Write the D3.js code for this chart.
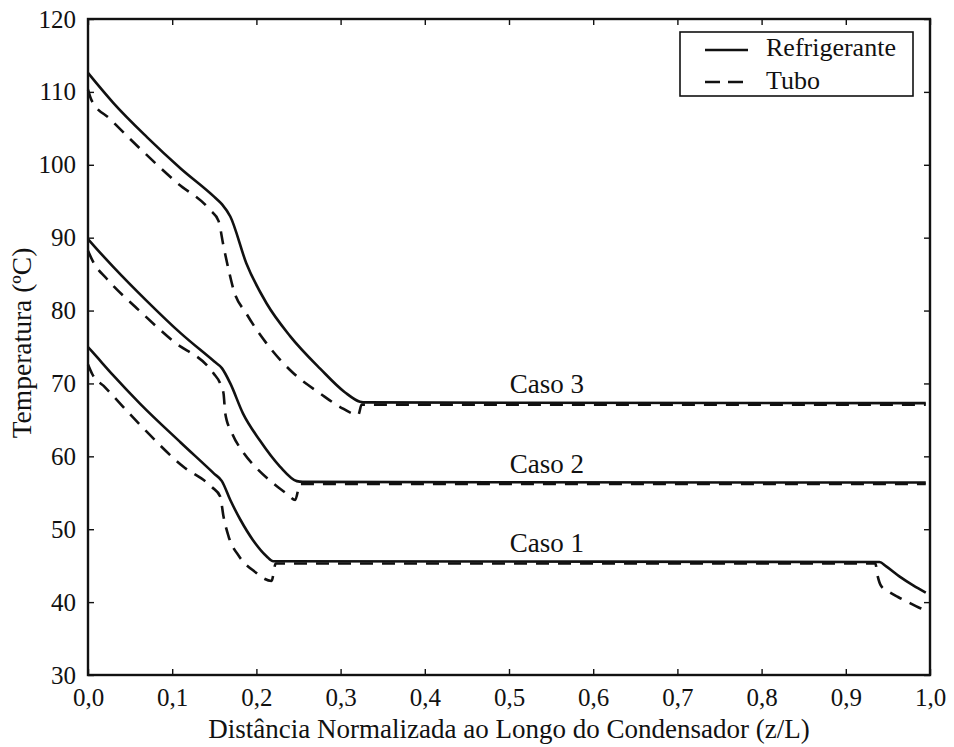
<!DOCTYPE html>
<html>
<head>
<meta charset="utf-8">
<script src="https://cdn.jsdelivr.net/npm/d3@7"></script>
<style>
  body { margin: 0; background: #fff; }
  text { font-family: "Liberation Serif", "Times New Roman", serif; fill: #111; }
</style>
</head>
<body>
<svg width="954" height="747"></svg>
<script>
// values: [z/L, temperature °C]
var caso1Refrigerante = [[0, 75.0], [0.01, 73.7], [0.03, 71.1], [0.062, 67.2], [0.11, 61.9], [0.15, 57.6], [0.159, 56.6],
    [0.169, 54.0], [0.181, 51.3], [0.196, 48.5], [0.212, 46.3], [0.22, 45.6], [0.94, 45.5], [0.948, 44.9],
    [0.964, 43.5], [0.98, 42.3], [0.995, 41.3]];
var caso1Tubo = [[0, 72.6], [0.005, 71.3], [0.02, 69.5], [0.062, 64.3], [0.113, 58.6], [0.147, 55.8], [0.157, 54.5],
    [0.161, 51.7], [0.167, 49.0], [0.18, 46.2], [0.2, 44.0], [0.208, 43.3], [0.218, 42.9], [0.223, 45.3],
    [0.935, 45.3], [0.938, 43.5], [0.942, 42.2], [0.95, 41.5], [0.962, 40.7], [0.974, 40.0], [0.986, 39.3], [0.995, 38.9]];

var caso2Refrigerante = [[0, 89.8], [0.01, 88.5], [0.03, 86.0], [0.07, 81.3], [0.11, 76.9], [0.15, 73.0], [0.159, 72.1],
    [0.169, 70.0], [0.184, 65.9], [0.204, 62.2], [0.228, 58.6], [0.248, 56.6], [0.255, 56.5], [0.995, 56.4]];
var caso2Tubo = [[0, 88.2], [0.006, 86.7], [0.022, 84.4], [0.06, 80.1], [0.1, 75.9], [0.149, 71.4], [0.157, 70.0],
    [0.161, 68.6], [0.163, 65.9], [0.171, 63.2], [0.184, 60.6], [0.2, 58.4], [0.22, 56.3], [0.238, 54.7],
    [0.246, 54.0], [0.252, 56.2], [0.995, 56.2]];

var caso3Refrigerante = [[0, 112.6], [0.01, 111.2], [0.03, 108.5], [0.07, 103.8], [0.11, 99.5], [0.15, 95.6], [0.159, 94.6],
    [0.169, 92.9], [0.188, 86.5], [0.212, 81.0], [0.24, 76.5], [0.276, 72.0], [0.305, 68.8], [0.323, 67.5],
    [0.33, 67.4], [0.995, 67.3]];
var caso3Tubo = [[0, 110.3], [0.004, 108.9], [0.026, 106.3], [0.062, 102.2], [0.105, 97.6], [0.145, 93.8], [0.155, 92.3],
    [0.161, 88.8], [0.167, 85.6], [0.173, 82.8], [0.188, 79.6], [0.212, 75.5], [0.244, 71.4], [0.276, 68.6],
    [0.299, 66.8], [0.321, 65.7], [0.325, 67.1], [0.995, 67.1]];

var casoNames = ["Caso 1", "Caso 2", "Caso 3"];
var casoLabelX = 0.545;
var plateaus = [45.6, 56.5, 67.4];

var xTicks = [0, 0.1, 0.2, 0.3, 0.4, 0.5, 0.6, 0.7, 0.8, 0.9, 1.0];
var yTicks = [30, 40, 50, 60, 70, 80, 90, 100, 110, 120];

var svg = d3.select("svg"),
    width = +svg.attr("width"),
    height = +svg.attr("height");

var margin = {top: 19, right: 24, bottom: 72, left: 88};
var x = d3.scaleLinear().domain([0, 1]).range([margin.left, width - margin.right]);
var y = d3.scaleLinear().domain([30, 120]).range([height - margin.bottom, margin.top]);

var fmt = function(d) { return d3.format(".1f")(d).replace(".", ","); };

// axes, ticks pointing inward on all four sides
svg.append("g")
    .attr("transform", "translate(0," + y(30) + ")")
    .call(d3.axisBottom(x).tickValues(xTicks).tickSize(-6).tickPadding(13).tickFormat(fmt))
    .call(g => g.select(".domain").remove());
svg.append("g")
    .attr("transform", "translate(0," + y(120) + ")")
    .call(d3.axisTop(x).tickValues(xTicks).tickSize(-6).tickFormat(""))
    .call(g => g.select(".domain").remove());
svg.append("g")
    .attr("transform", "translate(" + x(0) + ",0)")
    .call(d3.axisLeft(y).tickValues(yTicks).tickSize(-6).tickPadding(12))
    .call(g => g.select(".domain").remove());
svg.append("g")
    .attr("transform", "translate(" + x(1) + ",0)")
    .call(d3.axisRight(y).tickValues(yTicks).tickSize(-6).tickFormat(""))
    .call(g => g.select(".domain").remove());

svg.selectAll(".tick line").attr("stroke", "#111").attr("stroke-width", 1.4);
svg.selectAll(".tick text").style("font-size", "25px").style("font-family", "Liberation Serif");

// line series
var line = d3.line()
    .x(d => x(d[0]))
    .y(d => y(d[1]))
    .curve(d3.curveMonotoneX);

var series = [
    {data: caso1Tubo, dash: "13,9"},
    {data: caso2Tubo, dash: "13,9"},
    {data: caso3Tubo, dash: "13,9"},
    {data: caso1Refrigerante, dash: null},
    {data: caso2Refrigerante, dash: null},
    {data: caso3Refrigerante, dash: null}
];

svg.append("g")
    .selectAll("path")
    .data(series)
    .enter().append("path")
    .attr("d", d => line(d.data))
    .attr("fill", "none")
    .attr("stroke", "#111")
    .attr("stroke-width", 2.6)
    .attr("stroke-dasharray", d => d.dash);

// plot frame
svg.append("rect")
    .attr("x", x(0)).attr("y", y(120))
    .attr("width", x(1) - x(0)).attr("height", y(30) - y(120))
    .attr("fill", "none").attr("stroke", "#111").attr("stroke-width", 2.4);

// case labels
svg.append("g")
    .selectAll("text")
    .data(casoNames)
    .enter().append("text")
    .attr("x", x(casoLabelX))
    .attr("y", (d, i) => y(plateaus[i]) - 9)
    .attr("text-anchor", "middle")
    .style("font-size", "27px")
    .text(d => d);

// axis titles
svg.append("text")
    .attr("x", 509).attr("y", 738)
    .attr("text-anchor", "middle")
    .style("font-size", "27px")
    .text("Distância Normalizada ao Longo do Condensador (z/L)");
svg.append("text")
    .attr("transform", "translate(31,343) rotate(-90)")
    .attr("text-anchor", "middle")
    .style("font-size", "27.5px")
    .text("Temperatura (ºC)");

// legend
var legend = svg.append("g");
legend.append("rect")
    .attr("x", 680).attr("y", 32).attr("width", 233).attr("height", 64)
    .attr("fill", "#fff").attr("stroke", "#111").attr("stroke-width", 1.6);
legend.append("line")
    .attr("x1", 705).attr("x2", 748).attr("y1", 50).attr("y2", 50)
    .attr("stroke", "#111").attr("stroke-width", 2.6);
legend.append("line")
    .attr("x1", 705).attr("x2", 748).attr("y1", 82).attr("y2", 82)
    .attr("stroke", "#111").attr("stroke-width", 2.6).attr("stroke-dasharray", "15,8");
legend.append("text").attr("x", 766).attr("y", 56).style("font-size", "26px").text("Refrigerante");
legend.append("text").attr("x", 766).attr("y", 89).style("font-size", "26px").text("Tubo");
</script>
</body>
</html>
